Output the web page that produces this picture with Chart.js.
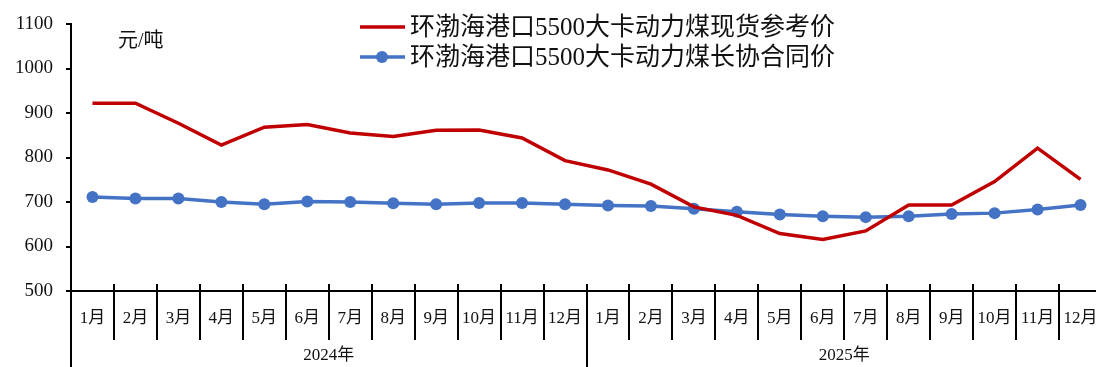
<!DOCTYPE html>
<html><head><meta charset="utf-8">
<script src="https://cdn.jsdelivr.net/npm/chart.js@4/dist/chart.umd.min.js"></script>
<style>
html,body{margin:0;padding:0;background:#fff;overflow:hidden;width:1096px;height:367px;}
#c{display:block;}
</style></head>
<body><canvas id="c" width="1110" height="367" style="width:1110px;height:367px;"></canvas>
<script>
const monthLabels = ['1月','2月','3月','4月','5月','6月','7月','8月','9月','10月','11月','12月'];
const yearLabels = ['2024年','2025年'];
const seriesNames = ['环渤海港口5500大卡动力煤现货参考价','环渤海港口5500大卡动力煤长协合同价'];
const spotPrice = [922,922,877,828,868,874,855,847,861,862,844,793,772,740,689,670,629,616,635,693,693,746,821,751];
const contractPrice = [711,708,708,700,695,701,700,697,695,698,698,695,692,691,685,678,672,668,666,668,673,675,683,693];
const yTicks = [500,600,700,800,900,1000,1100];
const unitLabel = '元/吨';

const categories = yearLabels.flatMap(() => monthLabels);
const FONT = "'Liberation Serif','Noto Sans CJK SC'";
const RED = '#C00000', BLUE = '#4472C4';

const decor = {
  id: 'decor',
  afterDraw(chart) {
    const ctx = chart.ctx, xs = chart.scales.x, ca = chart.chartArea;
    const n = categories.length;
    const w = xs.getPixelForValue(1) - xs.getPixelForValue(0);
    ctx.save();
    ctx.strokeStyle = '#000';
    ctx.lineWidth = 2;
    for (let i = 0; i <= n; i++) {
      const x = Math.round(xs.getPixelForValue(0) - w / 2 + i * w);
      ctx.beginPath();
      ctx.moveTo(x, ca.bottom - 7);
      ctx.lineTo(x, i % monthLabels.length === 0 ? chart.height : ca.bottom + 49);
      ctx.stroke();
    }
    ctx.fillStyle = '#111';
    ctx.font = '17px ' + FONT;
    ctx.textAlign = 'center';
    ctx.textBaseline = 'middle';
    yearLabels.forEach((y, k) => {
      const a = xs.getPixelForValue(k * 12) - w / 2;
      const b = xs.getPixelForValue(k * 12 + 11) + w / 2;
      ctx.fillText(y, (a + b) / 2, 356);
    });
    ctx.textAlign = 'left';
    ctx.font = '20px ' + FONT;
    ctx.fillText(unitLabel, 118, 42);
    ctx.font = '25px ' + FONT;
    chart.data.datasets.forEach((ds, k) => {
      const y = 27 + k * 30;
      ctx.strokeStyle = ds.borderColor;
      ctx.lineWidth = 3.5;
      ctx.beginPath(); ctx.moveTo(360, y); ctx.lineTo(405, y); ctx.stroke();
      if (ds.pointRadius > 0) {
        ctx.fillStyle = ds.borderColor;
        ctx.beginPath(); ctx.arc(382, y, 6, 0, Math.PI * 2); ctx.fill();
      }
      ctx.fillStyle = '#111';
      ctx.fillText(ds.label, 410, y + 1);
    });
    ctx.restore();
  }
};

new Chart(document.getElementById('c'), {
  type: 'line',
  data: {
    labels: categories,
    datasets: [
      { label: seriesNames[0], data: spotPrice, borderColor: RED, backgroundColor: RED, borderWidth: 3.5, pointRadius: 0, tension: 0 },
      { label: seriesNames[1], data: contractPrice, borderColor: BLUE, backgroundColor: BLUE, borderWidth: 3.5, pointRadius: 6, pointBackgroundColor: BLUE, pointBorderWidth: 0, pointHoverRadius: 6, tension: 0 }
    ]
  },
  options: {
    responsive: false, maintainAspectRatio: false, animation: false, devicePixelRatio: 1,
    layout: { autoPadding: false, padding: { left: 0, right: 8, top: 24, bottom: 0 } },
    plugins: { legend: { display: false }, tooltip: { enabled: false } },
    scales: {
      x: {
        type: 'category',
        offset: true,
        grid: { display: true, drawOnChartArea: false, drawTicks: false, color: 'rgba(0,0,0,0)' },
        border: { display: true, color: '#000', width: 2 },
        ticks: { color: '#111', font: { family: FONT, size: 17 }, padding: 17, maxRotation: 0, autoSkip: false },
        afterFit(s) { s.height = 76; s.paddingLeft = 0; s.paddingRight = 0; }
      },
      y: {
        min: 500, max: 1100,
        afterBuildTicks(s) { s.ticks = yTicks.map(v => ({ value: v })); },
        grid: { display: true, drawOnChartArea: false, drawTicks: true, tickLength: 5, color: '#000', lineWidth: 2 },
        border: { display: true, color: '#000', width: 2 },
        ticks: { color: '#111', font: { family: FONT, size: 19 }, padding: 13, callback: v => String(v) },
        afterFit(s) { s.width = 71; s.paddingTop = 0; s.paddingBottom = 0; }
      }
    }
  },
  plugins: [decor]
});
</script></body></html>
